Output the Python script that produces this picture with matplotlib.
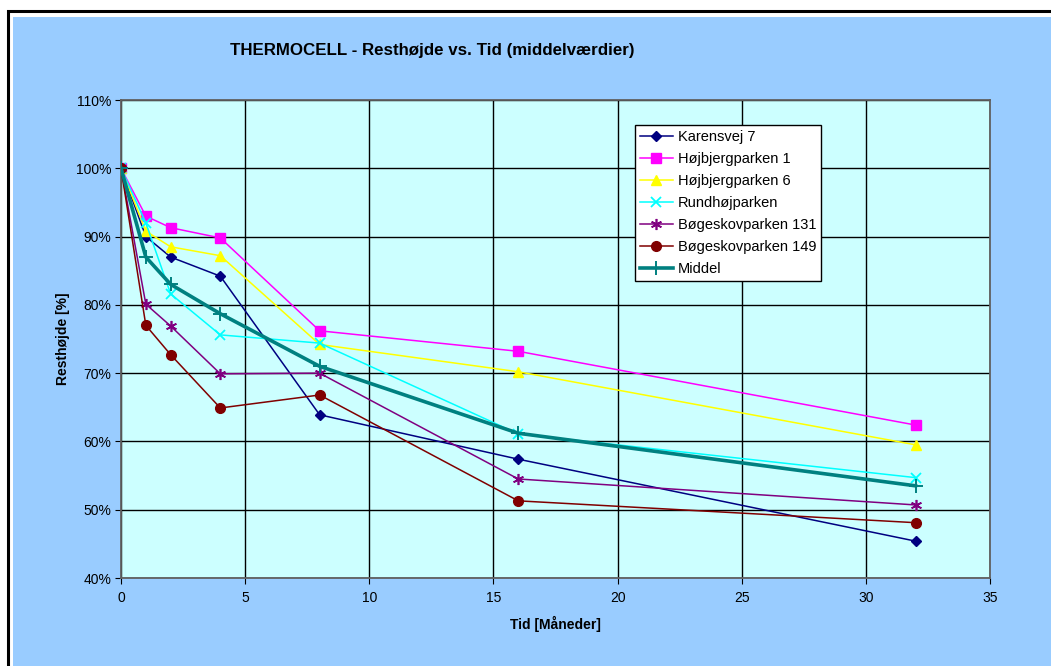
import numpy as np
import matplotlib.pyplot as plt
from matplotlib.patches import Rectangle
from matplotlib.ticker import FuncFormatter, MultipleLocator

plt.rcParams['font.family'] = ['Liberation Sans', 'DejaVu Sans']

# tid i maaneder
tid = [0, 1, 2, 4, 8, 16, 32]

# resthoejde i procent
karensvej_7 = [100, 90.0, 87.0, 84.2, 63.9, 57.4, 45.4]
hojbjerg_1 = [100, 93.0, 91.3, 89.8, 76.2, 73.2, 62.4]
hojbjerg_6 = [100, 90.8, 88.5, 87.2, 74.2, 70.2, 59.5]
rundhoj = [100, 92.0, 81.6, 75.6, 74.4, 61.1, 54.7]
bogeskov_131 = [100, 80.1, 76.9, 69.9, 70.0, 54.5, 50.7]
bogeskov_149 = [100, 77.0, 72.7, 64.9, 66.8, 51.3, 48.1]
middel = [100, 87.0, 83.0, 78.7, 71.0, 61.2, 53.5]

navne = ['Karensvej 7', 'Højbjergparken 1', 'Højbjergparken 6', 'Rundhøjparken',
         'Bøgeskovparken 131', 'Bøgeskovparken 149', 'Middel']

W, H = 1051, 666
fig = plt.figure(figsize=(W / 100, H / 100), dpi=100)
fig.patch.set_facecolor('white')

# ramme og blaa baggrund
fig.patches.append(Rectangle((7.5 / W, -0.1), 1.2, 1 - 11 / H + 0.1, transform=fig.transFigure,
                             facecolor='none', edgecolor='black', linewidth=2.2, zorder=-10))
fig.patches.append(Rectangle((13 / W, -0.1), 1.2, 1 - 17 / H + 0.1, transform=fig.transFigure,
                             facecolor='#99CCFF', edgecolor='none', zorder=-10))

ax = fig.add_axes([121 / W, 1 - 578 / H, (990 - 121) / W, (578 - 100) / H])
ax.set_facecolor('#CCFFFF')

serier = [
    (karensvej_7, dict(color='#000080', marker='D', markersize=5, lw=1.1)),
    (hojbjerg_1, dict(color='#FF00FF', marker='s', markersize=7, lw=1.1)),
    (hojbjerg_6, dict(color='#FFFF00', marker='^', markersize=7, lw=1.1)),
    (rundhoj, dict(color='#00FFFF', marker='x', markersize=7, mew=1.3, lw=1.1)),
    (bogeskov_131, dict(color='#800080', marker=(6, 2, 0), markersize=8, mew=1.2, lw=1.1)),
    (bogeskov_149, dict(color='#800000', marker='o', markersize=7, lw=1.1)),
    (middel, dict(color='#008080', marker='+', markersize=10, mew=1.4, lw=2.6)),
]
for (vals, st), navn in zip(serier, navne):
    ax.plot(tid, vals, label=navn, zorder=3, **st)

ax.set_xlim(0, 35)
ax.set_ylim(40, 110)
ax.xaxis.set_major_locator(MultipleLocator(5))
ax.yaxis.set_major_locator(MultipleLocator(10))
ax.yaxis.set_major_formatter(FuncFormatter(lambda v, p: f'{v:.0f}%'))
ax.grid(True, color='black', linewidth=1.0, zorder=1)
ax.set_axisbelow(True)
for s in ax.spines.values():
    s.set_color('#606060')
    s.set_linewidth(1.3)
ax.tick_params(direction='out', length=4, width=0.8, labelsize=10, colors='black', pad=3)
ax.tick_params(axis='x', pad=5)

ax.set_xlabel('Tid [Måneder]', fontsize=10, fontweight='bold', labelpad=8)
ax.set_ylabel('Resthøjde [%]', fontsize=10, fontweight='bold', labelpad=4)

fig.text(432 / W, 1 - 50 / H, 'THERMOCELL - Resthøjde vs. Tid (middelværdier)',
         ha='center', va='center', fontsize=12.2, fontweight='bold')

leg = ax.legend(loc='upper left', bbox_to_anchor=(0.591, 0.948), fontsize=10.5,
                frameon=True, fancybox=False, framealpha=1, edgecolor='black',
                borderaxespad=0, handlelength=2.3, labelspacing=0.55,
                handletextpad=0.3, borderpad=0.35)
leg.get_frame().set_linewidth(1.0)

fig.savefig('out.png', dpi=100)
